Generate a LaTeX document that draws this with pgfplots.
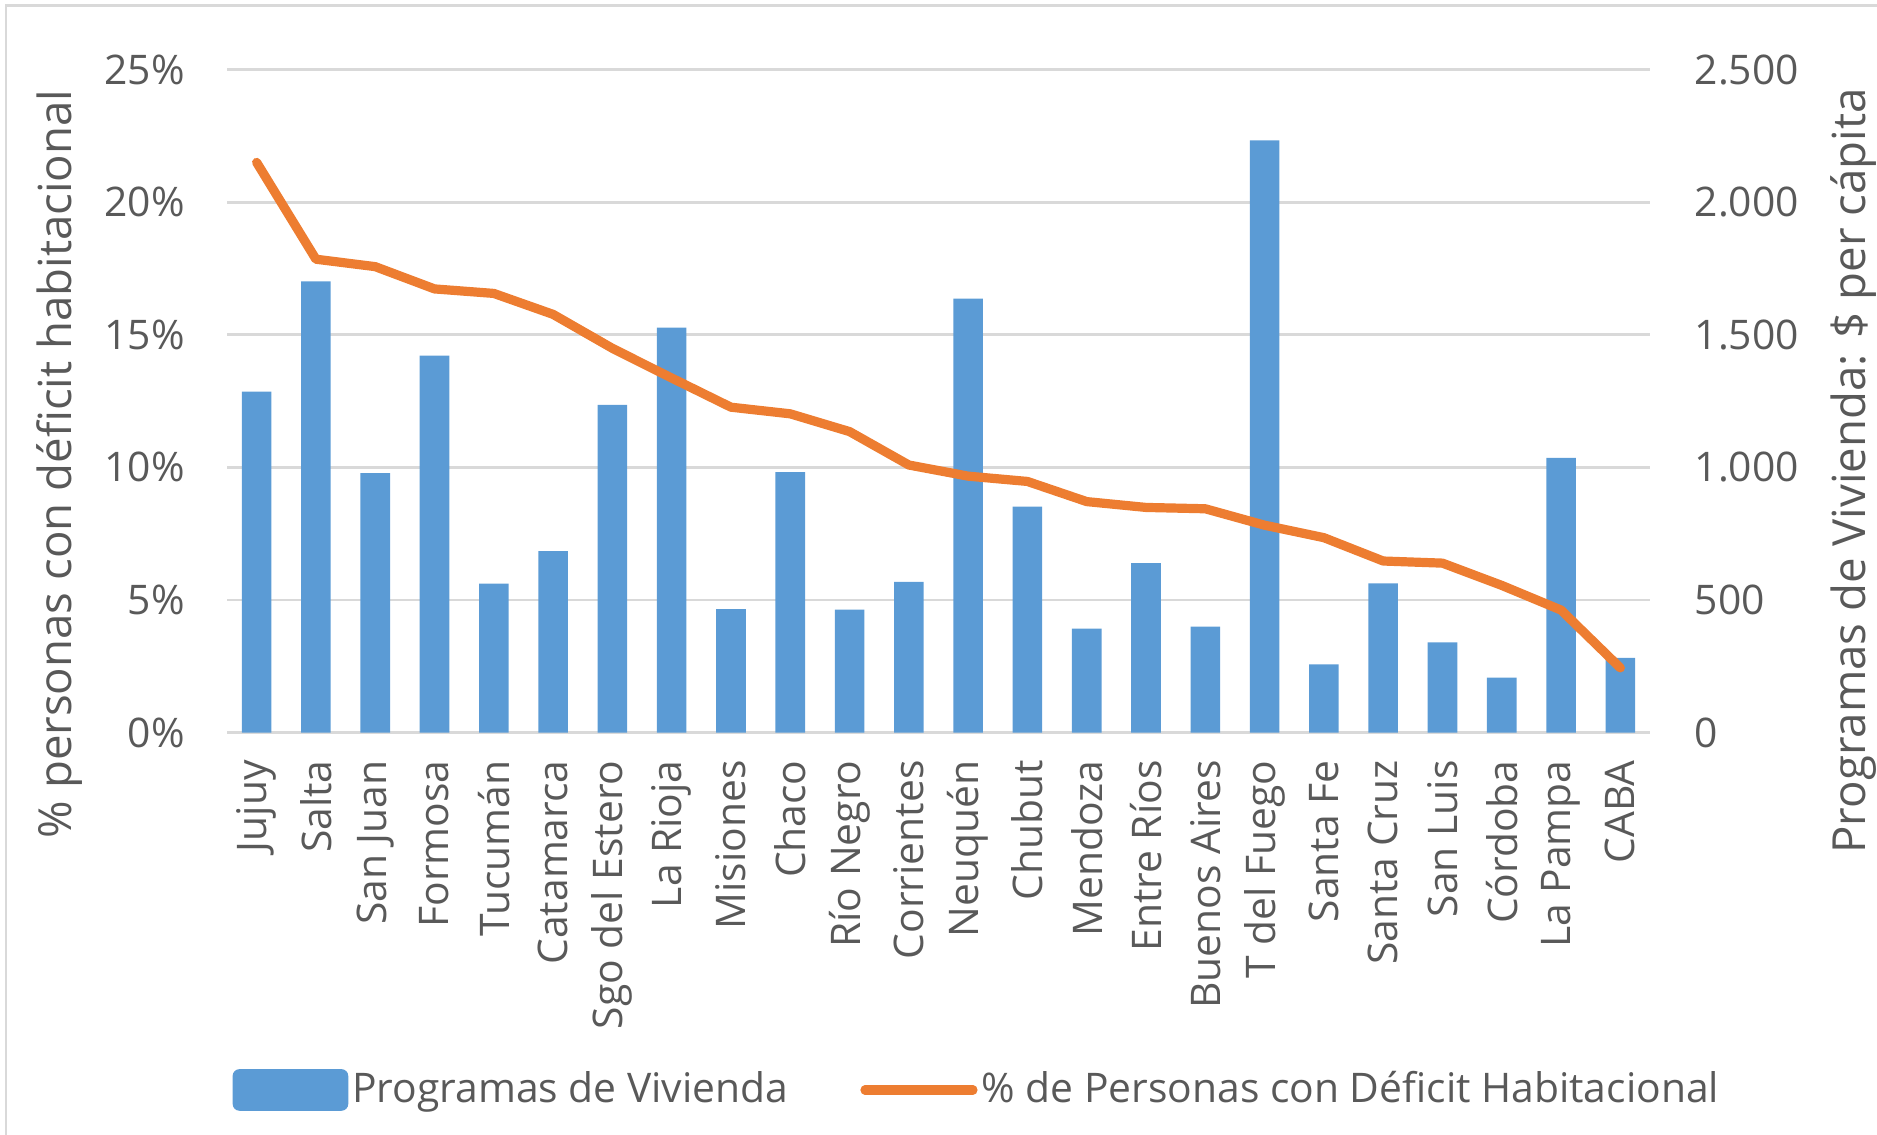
\documentclass[border=0pt]{standalone}
\usepackage{pgfplots}
\pgfplotsset{compat=1.18}
\usepackage{pgfplotstable}
\usepackage{fontspec}
\setmainfont{Open Sans}
\definecolor{barblue}{HTML}{5B9BD5}
\definecolor{lineorange}{HTML}{ED7D31}
\definecolor{gridgray}{HTML}{D9D9D9}
\definecolor{txt}{HTML}{595959}
\newcommand{\tickfont}{\fontsize{10.2}{12}\selectfont}
\newcommand{\labfont}{\fontsize{11.4}{13}\selectfont}

\pgfplotstableread{
x bar pct
0 1286 21.50
1 1701 17.85
2 978 17.57
3 1421 16.73
4 562 16.56
5 684 15.77
6 1236 14.49
7 1527 13.37
8 466 12.27
9 982 12.02
10 464 11.35
11 568 10.09
12 1636 9.67
13 852 9.47
14 392 8.71
15 639 8.49
16 400 8.44
17 2233 7.82
18 257 7.35
19 563 6.47
20 340 6.39
21 207 5.55
22 1036 4.62
23 282 2.44
}\datatable

\begin{document}
\begin{tikzpicture}
\path[use as bounding box] (0,0) rectangle (469.25pt,283.75pt);
\draw[gridgray, line width=0.6pt] (1.5pt,0) -- (1.5pt,282.4pt) -- (469.25pt,282.4pt);

\begin{axis}[
  at={(56.75pt,100.6pt)}, anchor=south west,
  scale only axis, width=355.75pt, height=165.75pt,
  xmin=-0.5, xmax=23.5, ymin=0, ymax=2500,
  axis y line*=right,
  axis line style={draw=none},
  major tick style={draw=none},
  ytick={0,500,1000,1500,2000,2500},
  yticklabels={0,500,1.000,1.500,2.000,2.500},
  ymajorgrids, grid style={gridgray, line width=0.67pt},
  yticklabel style={font=\tickfont, text=txt, anchor=west, inner sep=0pt, xshift=11pt},
  xtick={0,...,23},
  xticklabels={Jujuy,Salta,San Juan,Formosa,Tucumán,Catamarca,Sgo del Estero,La Rioja,Misiones,Chaco,Río Negro,Corrientes,Neuquén,Chubut,Mendoza,Entre Ríos,Buenos Aires,T del Fuego,Santa Fe,Santa Cruz,San Luis,Córdoba,La Pampa,CABA},
  xticklabel style={font=\tickfont, text=txt, yshift=-6.75pt, rotate=90, anchor=east, inner sep=0pt},
]
\addplot[ybar, bar width=7.4pt, fill=barblue, draw=none] table[x=x, y=bar]{\datatable};
\end{axis}

\begin{axis}[
  at={(56.75pt,100.6pt)}, anchor=south west,
  scale only axis, width=355.75pt, height=165.75pt,
  xmin=-0.5, xmax=23.5, ymin=0, ymax=25,
  axis y line*=left,
  hide x axis,
  axis line style={draw=none},
  major tick style={draw=none},
  ytick={0,5,10,15,20,25},
  yticklabels={0\%,5\%,10\%,15\%,20\%,25\%},
  yticklabel style={font=\tickfont, text=txt, anchor=east, inner sep=0pt, xshift=-10.4pt},
  legend style={at={(axis description cs:0.527,-0.539)}, anchor=center, draw=none, fill=none,
    font=\tickfont, text=txt, inner sep=0pt,
    nodes={inner xsep=0.5pt},
    /tikz/every even column/.append style={column sep=17.5pt},
    /tikz/every odd column/.append style={column sep=0.5pt}},
  legend columns=2,
  legend cell align=left,
]
\addlegendimage{legend image code/.code={\fill[barblue, rounded corners=1.5pt] (0pt,-5pt) rectangle (28.5pt,5pt);}}
\addlegendentry{Programas de Vivienda}
\addplot[lineorange, line width=2.3pt, line join=round, line cap=round,
  legend image code/.code={\draw[lineorange, line width=2.3pt, line cap=round] (0pt,0pt) -- (27pt,0pt);}]
  table[x=x, y=pct]{\datatable};
\addlegendentry{\% de Personas con Déficit Habitacional}
\end{axis}

\node[rotate=90, anchor=center, font=\labfont, text=txt, inner sep=0pt] at (15pt,167.75pt) {\% personas con déficit habitacional};
\node[rotate=90, anchor=center, font=\labfont, text=txt, inner sep=0pt] at (463.25pt,166pt) {Programas de Vivienda: \$ per cápita};
\end{tikzpicture}
\end{document}
